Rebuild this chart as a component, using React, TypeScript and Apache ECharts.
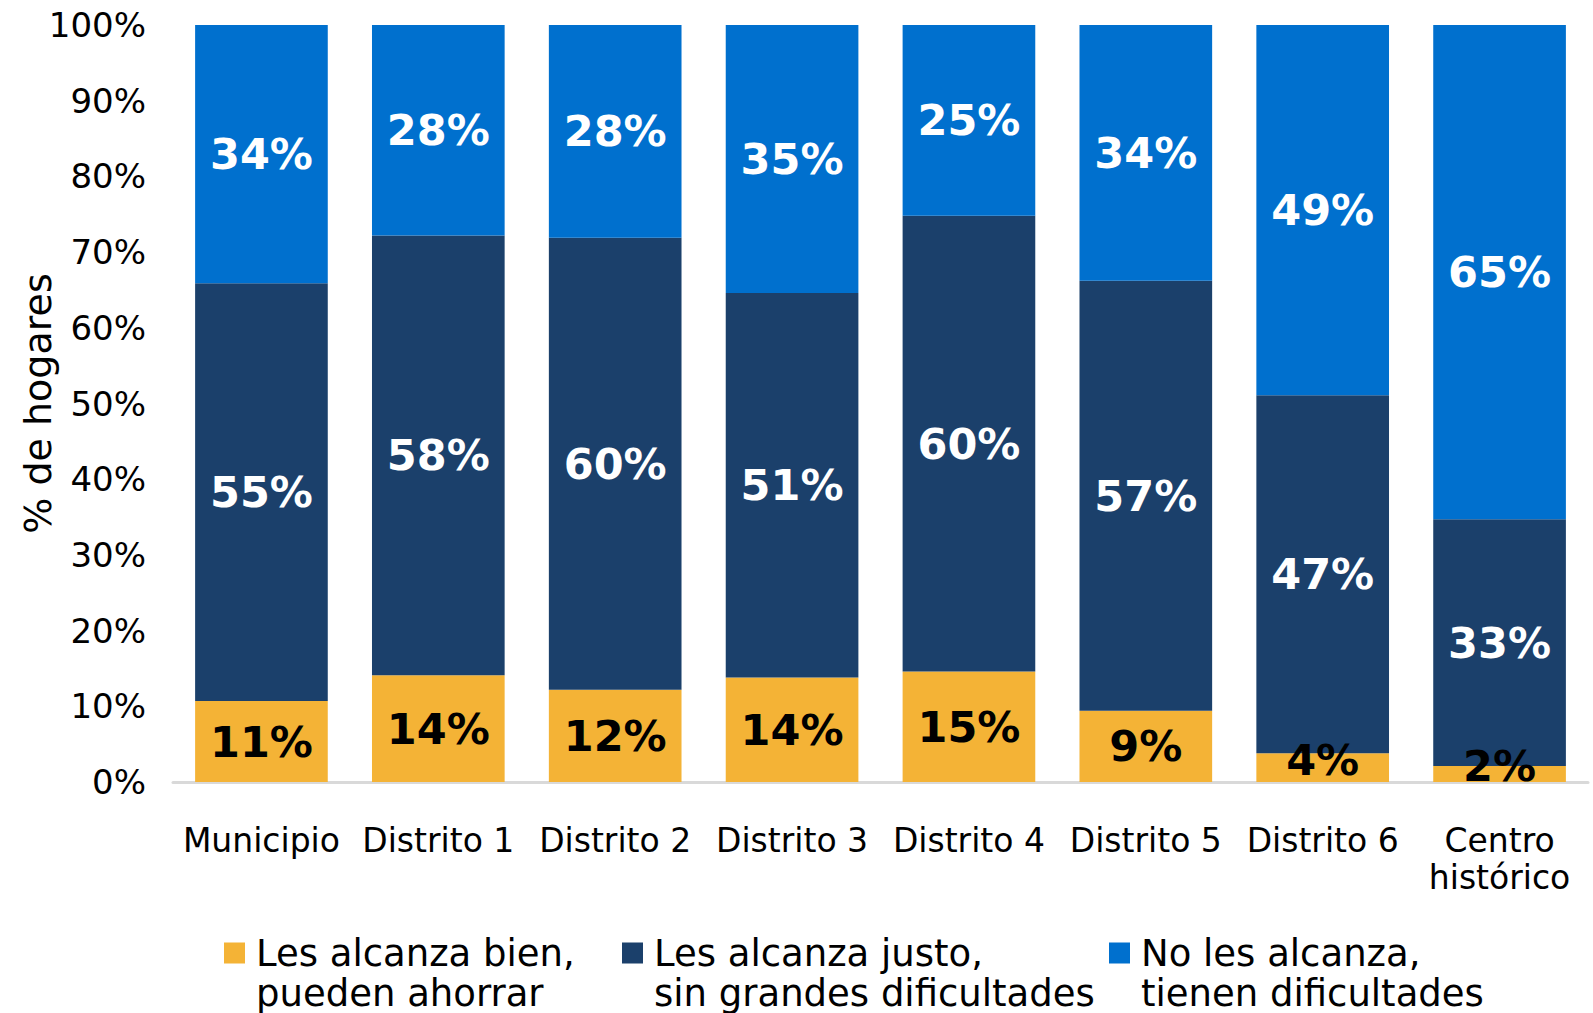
import React, { useEffect, useRef } from "react";
import * as echarts from "echarts";

const categories = [
  "Municipio",
  "Distrito 1",
  "Distrito 2",
  "Distrito 3",
  "Distrito 4",
  "Distrito 5",
  "Distrito 6",
  "Centro histórico",
];
const seriesNames = [
  "Les alcanza bien, pueden ahorrar",
  "Les alcanza justo, sin grandes dificultades",
  "No les alcanza, tienen dificultades",
];
const legendLines = [
  "Les alcanza bien,\npueden ahorrar",
  "Les alcanza justo,\nsin grandes dificultades",
  "No les alcanza,\ntienen dificultades",
];
const bienValues = [10.7, 14.1, 12.2, 13.8, 14.6, 9.4, 3.8, 2.1];
const justoValues = [55.2, 58.1, 59.7, 50.8, 60.2, 56.8, 47.3, 32.6];
const noValues = [34.1, 27.8, 28.1, 35.4, 25.2, 33.8, 48.9, 65.3];
const yTicks = { min: 0, max: 100, interval: 10 };
const yAxisTitle = "% de hogares";

const COLORS = ["#F4B336", "#1B406B", "#0070CE"];
const FONT = "'DejaVu Sans', sans-serif";
// square icon at the top of a tall (transparent) box so it aligns with the first text line
const LEGEND_ICON = "path://M0,0L21,0L21,21L0,21Z M0,61L0.01,61";

export default function App() {
  const ref = useRef<HTMLDivElement>(null);
  useEffect(() => {
    if (!ref.current) return;
    const chart = echarts.init(ref.current, undefined, { renderer: "svg" });
    const values = [bienValues, justoValues, noValues];
    const legendLefts = [224, 622, 1109];
    const legends = seriesNames.map((name, i) => ({
      data: [name],
      left: legendLefts[i],
      top: 933,
      orient: "horizontal",
      padding: 0,
      selectedMode: false,
      itemWidth: 21,
      itemHeight: 61,
      icon: LEGEND_ICON,
      formatter: () => legendLines[i],
      textStyle: {
        fontFamily: FONT,
        fontSize: 37,
        lineHeight: 40,
        color: "#000",
        padding: [0, 0, 0, 6],
      },
    }));
    chart.setOption({
      animation: false,
      textStyle: { fontFamily: FONT },
      color: COLORS,
      legend: legends,
      grid: {
        left: 173,
        right: 5,
        top: 25,
        bottom: 231,
        containLabel: false,
        outerBoundsMode: "none",
      },
      xAxis: {
        type: "category",
        data: categories,
        axisTick: { show: false },
        axisLine: { lineStyle: { color: "#D9D9D9", width: 3 } },
        axisLabel: {
          fontFamily: FONT,
          fontSize: 33,
          lineHeight: 37,
          color: "#000",
          margin: 40,
          interval: 0,
          formatter: (v: string) => (v === "Centro histórico" ? "Centro\nhistórico" : v),
        },
      },
      yAxis: {
        type: "value",
        min: yTicks.min,
        max: yTicks.max,
        interval: yTicks.interval,
        splitLine: { show: false },
        axisLine: { show: false },
        axisTick: { show: false },
        axisLabel: {
          fontFamily: FONT,
          fontSize: 34,
          color: "#000",
          margin: 27,
          formatter: "{value}%",
        },
        name: yAxisTitle,
        nameLocation: "middle",
        nameGap: 116,
        nameMoveOverlap: false,
        nameTextStyle: { fontFamily: FONT, fontSize: 38, color: "#000" },
      },
      series: seriesNames.map((name, i) => ({
        name,
        type: "bar",
        stack: "total",
        barCategoryGap: "25%",
        data: values[i].map((v) => ({
          value: v,
          label: v < 5 ? { offset: [0, -8] } : undefined,
        })),
        itemStyle: { color: COLORS[i] },
        label: {
          show: true,
          position: "inside",
          fontFamily: FONT,
          fontSize: 43,
          fontWeight: "bold",
          color: i === 0 ? "#000" : "#FFF",
          formatter: (p: any) => `${Math.round(p.value)}%`,
        },
      })),
    });
    return () => chart.dispose();
  }, []);
  return (
    <div
      ref={ref}
      style={{ position: "absolute", left: 0, top: 0, width: 1593, height: 1013, background: "#fff" }}
    />
  );
}
